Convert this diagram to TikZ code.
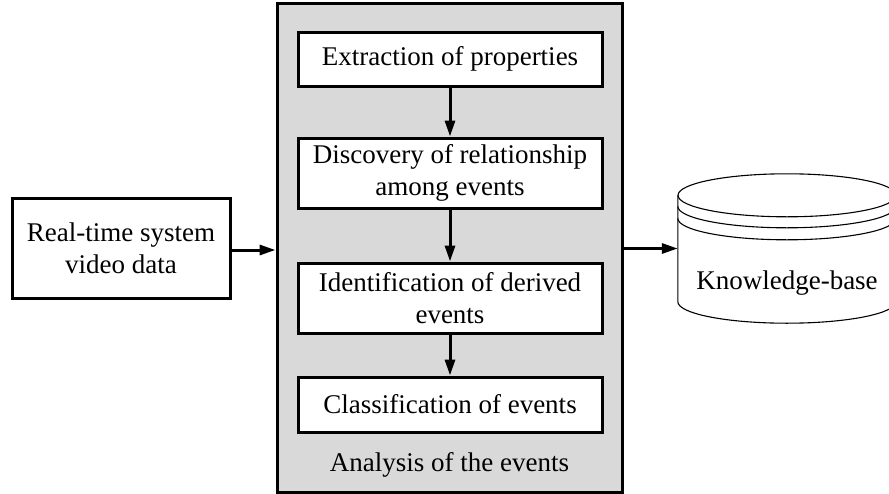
\documentclass[tikz,border=0pt]{standalone}
\usepackage{fontspec}
\setmainfont{Liberation Serif}
\usetikzlibrary{arrows.meta,calc}
\begin{document}
\begin{tikzpicture}[x=1pt,y=-1pt,
  every node/.style={font=\fontsize{27}{32.4}\selectfont},
  stagebox/.style={draw,line width=3pt,fill=white,minimum width=304pt,inner sep=0pt,align=center},
  flow/.style={line width=3pt,-{Triangle[length=16pt,width=10pt]}},
  dbline/.style={line width=1.1pt}
]
\useasboundingbox (0,0) rectangle (889,493);
\clip (0,0) rectangle (889,493);

% analysis container
\node (analysis) [draw,line width=3pt,fill=black!15,minimum width=345pt,minimum height=489pt,inner sep=0pt] at (449.5,247.5) {};
\node (analysislabel) at (449.5,465) {Analysis of the events};

% stages inside the container
\node (ext)   [stagebox,minimum height=54pt] at (450,59)    {Extraction of properties};
\node (disc)  [stagebox,minimum height=70pt] at (450,173)   {Discovery of relationship\\among events};
\node (ident) [stagebox,minimum height=70pt] at (450,298)   {Identification of derived\\events};
\node (class) [stagebox,minimum height=55pt] at (450,404.5) {Classification of events};

\draw[flow] (ext) -- (disc);
\draw[flow] (disc) -- (ident);
\draw[flow] (ident) -- (class);

% input source
\node (src) [draw,line width=3pt,fill=white,minimum width=218pt,minimum height=100pt,inner sep=0pt,align=center] at (121,248) {Real-time system\\video data};
\coordinate (srcout) at ($(src.east)+(0,2)$);
\draw[flow] (srcout) -- (srcout-|analysis.west);

% knowledge base cylinder
\node (kb) [minimum width=218pt,minimum height=149pt,inner sep=0pt] at (787,248.5) {};
\draw[dbline] ($(kb.north)+(0,21.5)$) ellipse [x radius=109,y radius=21.5];
\draw[dbline] ($(kb.north west)+(0,32.5)$) arc [start angle=180,end angle=360,x radius=109,y radius=-21.5];
\draw[dbline] ($(kb.north west)+(0,44.5)$) arc [start angle=180,end angle=360,x radius=109,y radius=-21.5];
\draw[dbline] ($(kb.north west)+(0,21.5)$) -- ($(kb.south west)+(0,-21.5)$)
  arc [start angle=180,end angle=360,x radius=109,y radius=-21.5]
  -- ($(kb.north east)+(0,21.5)$);
\node (kblabel) at (787,283) {Knowledge-base};

\draw[flow] (kb.west-|analysis.east) -- (kb.west);
\end{tikzpicture}
\end{document}
